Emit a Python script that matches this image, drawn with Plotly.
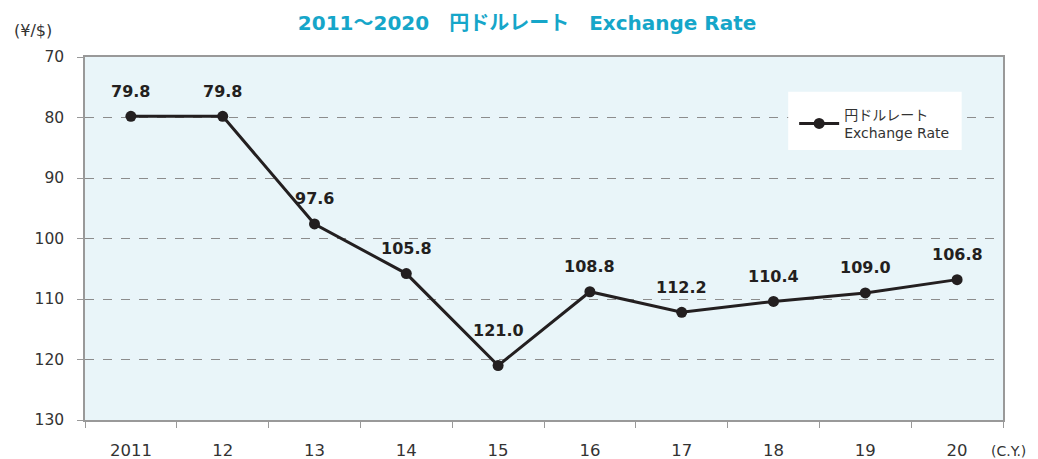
import plotly.graph_objects as go

categories = ["2011", "12", "13", "14", "15", "16", "17", "18", "19", "20"]
rates = [79.8, 79.8, 97.6, 105.8, 121.0, 108.8, 112.2, 110.4, 109.0, 106.8]
labels = ["79.8", "79.8", "97.6", "105.8", "121.0", "108.8", "112.2", "110.4", "109.0", "106.8"]
y_ticks = [70, 80, 90, 100, 110, 120, 130]

FONT = "DejaVu Sans, Noto Sans CJK JP, sans-serif"

fig = go.Figure()
fig.add_trace(go.Scatter(
    x=categories, y=rates, mode="lines+markers",
    name="円ドルレート<br>Exchange Rate",
    line=dict(color="#231f20", width=3),
    marker=dict(color="#231f20", size=11),
))

for i, (v, t) in enumerate(zip(rates, labels)):
    shift = 35 if v == max(rates) else 25  # lowest point's label sits higher, clear of the lines
    fig.add_annotation(x=i, y=v, text="<b>%s</b>" % t, showarrow=False,
                       yshift=shift, font=dict(size=16, color="#231f20", family=FONT))

fig.add_annotation(xref="paper", yref="paper", x=-0.0795, y=1.074, xanchor="left",
                   yanchor="middle", text="(¥/$)", showarrow=False,
                   font=dict(size=16, color="#333333", family=FONT))
fig.add_annotation(xref="paper", yref="paper", x=1.027, y=-0.086, xanchor="right",
                   yanchor="middle", text="(C.Y.)", showarrow=False,
                   font=dict(size=14, color="#333333", family=FONT))

# white box behind the legend
fig.add_shape(type="rect", xref="paper", yref="paper",
              x0=0.766, x1=0.955, y0=0.744, y1=0.904,
              fillcolor="white", line=dict(width=0), layer="above")

fig.update_layout(
    width=1030, height=451,
    margin=dict(l=77, r=35, t=49, b=39, autoexpand=False),
    paper_bgcolor="white",
    plot_bgcolor="#e9f5f9",
    font=dict(family=FONT, color="#333333", size=14),
    title=dict(text="<b>2011～2020　円ドルレート　Exchange Rate</b>",
               x=0.504, xanchor="center", y=0.967, yanchor="middle",
               font=dict(size=20, color="#16a6c9", family=FONT)),
    showlegend=True,
    legend=dict(x=0.7725, y=0.885, xanchor="left", yanchor="top",
                bgcolor="rgba(0,0,0,0)", borderwidth=0,
                font=dict(size=14, color="#333333", family=FONT),
                itemwidth=40),
)

fig.update_xaxes(
    type="category", range=[-0.5, len(categories) - 0.5], automargin=False,
    tickson="boundaries", ticks="outside", ticklen=6,
    tickcolor="#999999", showgrid=False, showline=True, linecolor="#999999",
    linewidth=1.5, mirror=True, ticklabelstandoff=14, tickangle=0,
    tickfont=dict(size=16.5, color="#333333"),
)
fig.update_yaxes(
    range=[130, 70], tickvals=y_ticks, ticks="outside", ticklen=6, automargin=False,
    tickcolor="#999999", showline=True, linecolor="#999999", linewidth=1.5,
    mirror=True, showgrid=True, gridcolor="#8c8c8c", griddash="dash",
    gridwidth=1, zeroline=False, ticklabelstandoff=10,
    tickfont=dict(size=15.5, color="#333333"),
)

fig.write_html("out.html")
